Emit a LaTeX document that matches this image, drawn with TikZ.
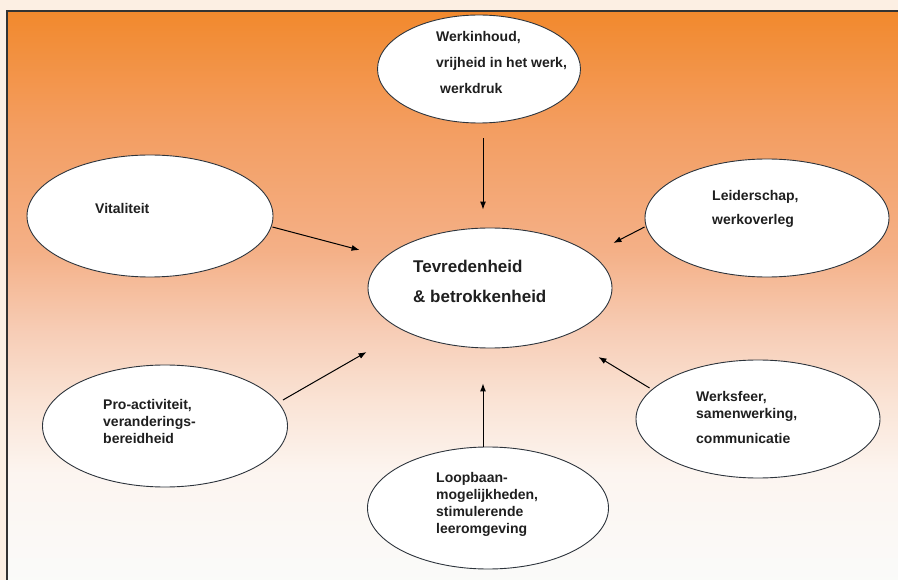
\documentclass[tikz,border=0pt]{standalone}
\usepackage{fontspec}
\setmainfont{Liberation Sans}
\usetikzlibrary{arrows.meta, positioning, calc, shapes.geometric}
\definecolor{cream}{RGB}{252,239,227}
\definecolor{bgtop}{RGB}{242,137,45}
\definecolor{bgb}{RGB}{243,158,98}
\definecolor{bgc}{RGB}{244,176,135}
\definecolor{bgd}{RGB}{247,205,182}
\definecolor{bge}{RGB}{250,228,214}
\definecolor{bgf}{RGB}{252,245,240}
\definecolor{bgbot}{RGB}{250,251,250}
\definecolor{ovalline}{RGB}{45,52,60}
\pgfdeclareverticalshading{peach}{100bp}{color(0bp)=(bgbot); color(25bp)=(bgbot);
  color(34.8bp)=(bgf); color(40.9bp)=(bge); color(47.1bp)=(bgd); color(54.1bp)=(bgc);
  color(64.6bp)=(bgb); color(75bp)=(bgtop); color(100bp)=(bgtop)}
\tikzset{%
	oval/.style={draw=ovalline, line width=0.9pt, ellipse, fill=white, inner sep=0pt},
	lbl/.style={align=left, inner sep=0pt, anchor=base west, text=black!88},
	small/.style={font=\fontsize{14}{#1}\selectfont\bfseries},
	arr/.style={-{Latex[length=8pt,width=6pt]}, line width=1pt}
}
\begin{document}
\begin{tikzpicture}[x=1pt, y=-1pt]
	\useasboundingbox (0,0) rectangle (898,580);
	\fill[cream] (0,0) rectangle (898,580);
	\draw[line width=1.5pt, draw=black!80, shading=peach] (7,11) rectangle (904,586);

	% ovals
	\node[oval, minimum width=244pt, minimum height=120pt] (tev) at (490,288) {};
	\node[oval, minimum width=203pt, minimum height=108pt] (werk) at (479,69) {};
	\node[oval, minimum width=246pt, minimum height=122pt] (vit) at (150,216) {};
	\node[oval, minimum width=244pt, minimum height=118pt] (leid) at (767,218) {};
	\node[oval, minimum width=245pt, minimum height=122pt] (pro) at (165,426) {};
	\node[oval, minimum width=244pt, minimum height=118pt] (sfeer) at (758,419) {};
	\node[oval, minimum width=241pt, minimum height=122pt] (loop) at (488,508) {};

	% texts (base = last line)
	\node[lbl, font=\fontsize{17}{30}\selectfont\bfseries] (tevtxt) at ($(tev.center)+(-77,15)$)
		{Tevredenheid\\\& betrokkenheid};
	\node[lbl, small=26] (werktxt) at ($(werk.center)+(-43,25)$)
		{Werkinhoud,\\vrijheid in het werk,\\\hspace{4pt}werkdruk};
	\node[lbl, small=17] (vittxt) at ($(vit.center)+(-55,-2)$) {Vitaliteit};
	\node[lbl, small=24] (leidtxt) at ($(leid.center)+(-55,7)$) {Leiderschap,\\werkoverleg};
	\node[lbl, small=17] (protxt) at ($(pro.center)+(-62,17)$)
		{Pro-activiteit,\\veranderings-\\bereidheid};
	\node[lbl, small=17] (sfeertxt) at ($(sfeer.center)+(-62,24)$)
		{Werksfeer,\\samenwerking,\\[8pt]communicatie};
	\node[lbl, small=16.7] (looptxt) at ($(loop.center)+(-52,25)$)
		{Loopbaan-\\mogelijkheden,\\stimulerende\\leeromgeving};

	% arrows
	\draw[arr] ($(werk.south)+(4,15)$) -- ($(tev.north)+(-7,-18)$);
	\draw[arr] ($(vit.east)+(-1,11)$) -- ($(tev.west)+(-8,-38)$);
	\draw[arr] ($(leid.west)+(0,9)$) -- ($(tev.east)+(1,-45)$);
	\draw[arr] ($(pro.east)+(-5,-26)$) -- ($(tev.west)+(-1,64)$);
	\draw[arr] ($(sfeer.west)+(14,-31)$) -- ($(tev.east)+(-14,69)$);
	\draw[arr] ($(loop.north)+(-5,0)$) -- ($(tev.south)+(-7,35)$);
\end{tikzpicture}
\end{document}
